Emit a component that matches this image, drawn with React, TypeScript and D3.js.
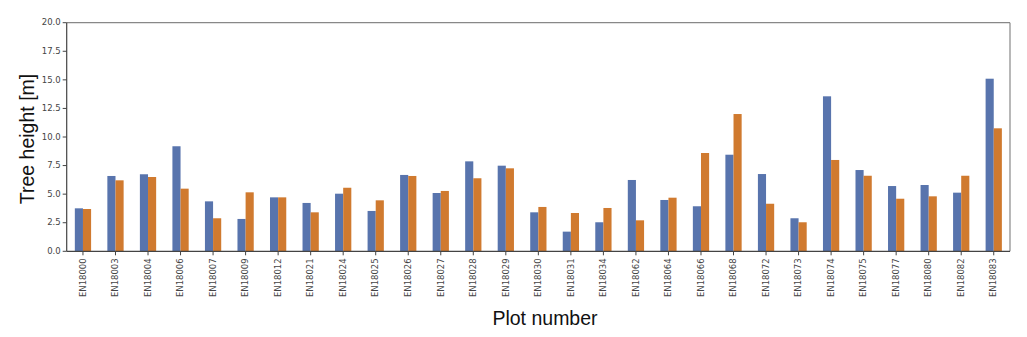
import React from "react";
import * as d3 from "d3";

// plot ids along the x axis
const plots = [
  "EN18000", "EN18003", "EN18004", "EN18006", "EN18007", "EN18009", "EN18012",
  "EN18021", "EN18024", "EN18025", "EN18026", "EN18027", "EN18028", "EN18029",
  "EN18030", "EN18031", "EN18034", "EN18062", "EN18064", "EN18066", "EN18068",
  "EN18072", "EN18073", "EN18074", "EN18075", "EN18077", "EN18080", "EN18082",
  "EN18083",
];

// first series (blue)
const heightA = [
  3.76, 6.59, 6.74, 9.19, 4.37, 2.83, 4.72, 4.23, 5.04, 3.53, 6.68, 5.10, 7.87,
  7.49, 3.41, 1.72, 2.54, 6.24, 4.49, 3.94, 8.45, 6.76, 2.89, 13.56, 7.11, 5.71,
  5.80, 5.13, 15.10,
];

// second series (orange)
const heightB = [
  3.70, 6.21, 6.50, 5.48, 2.89, 5.16, 4.72, 3.41, 5.56, 4.46, 6.59, 5.28, 6.39,
  7.26, 3.88, 3.35, 3.79, 2.71, 4.69, 8.60, 12.01, 4.16, 2.54, 7.99, 6.61, 4.60,
  4.81, 6.61, 10.76,
];

const yTicks = [0, 2.5, 5, 7.5, 10, 12.5, 15, 17.5, 20];

const W = 1027;
const H = 337;
const margin = { top: 22.7, right: 17, bottom: 85.7, left: 66.7 };

export default function App() {
  const innerW = W - margin.left - margin.right;
  const innerH = H - margin.top - margin.bottom;

  // pandas-style: categories sit at integer positions, bars 0.25 wide each
  const x = d3.scaleLinear().domain([-0.5, plots.length - 0.5]).range([0, innerW]);
  const y = d3.scaleLinear().domain([0, 20]).range([innerH, 0]);
  const barW = x(0.25) - x(0);

  const tickFont = "DejaVu Sans, sans-serif";

  return (
    <svg
      width={W}
      height={H}
      style={{ position: "absolute", left: 0, top: 0, background: "#fff" }}
    >
      <g transform={`translate(${margin.left},${margin.top})`}>
        {plots.map((p, i) => (
          <g key={p}>
            <rect
              x={x(i) - barW}
              y={y(heightA[i])}
              width={barW}
              height={innerH - y(heightA[i])}
              fill="#5874ad"
            />
            <rect
              x={x(i)}
              y={y(heightB[i])}
              width={barW}
              height={innerH - y(heightB[i])}
              fill="#d07a2f"
            />
          </g>
        ))}

        {/* frame: top and right are lighter */}
        <line x1={0} x2={innerW} y1={0} y2={0} stroke="#888" strokeWidth={1.2} />
        <line x1={innerW} x2={innerW} y1={0} y2={innerH} stroke="#888" strokeWidth={1.2} />
        <line x1={0} x2={0} y1={0} y2={innerH} stroke="#444" strokeWidth={1.2} />
        <line x1={0} x2={innerW} y1={innerH} y2={innerH} stroke="#444" strokeWidth={1.2} />

        {/* y axis */}
        {yTicks.map((t) => (
          <g key={t} transform={`translate(0,${y(t)})`}>
            <line x1={-4} x2={0} stroke="#444" />
            <text
              x={-6}
              dy="0.32em"
              textAnchor="end"
              fontFamily={tickFont}
              fontSize={8.5}
              fill="#444"
            >
              {t.toFixed(1)}
            </text>
          </g>
        ))}

        {/* x axis */}
        {plots.map((p, i) => (
          <g key={p} transform={`translate(${x(i)},${innerH})`}>
            <line y1={0} y2={4} stroke="#444" />
            <text
              transform="translate(0,7) rotate(-90)"
              dy="0.32em"
              textAnchor="end"
              fontFamily={tickFont}
              fontSize={8.5}
              fill="#444"
            >
              {p}
            </text>
          </g>
        ))}
      </g>

      <text
        transform={`translate(34,${margin.top + innerH / 2 + 2}) rotate(-90)`}
        textAnchor="middle"
        fontFamily="Liberation Sans, Arial, sans-serif"
        fontSize={19.5}
        fill="#111"
      >
        Tree height [m]
      </text>
      <text
        x={545}
        y={325}
        textAnchor="middle"
        fontFamily="Liberation Sans, Arial, sans-serif"
        fontSize={19.5}
        fill="#111"
      >
        Plot number
      </text>
    </svg>
  );
}
